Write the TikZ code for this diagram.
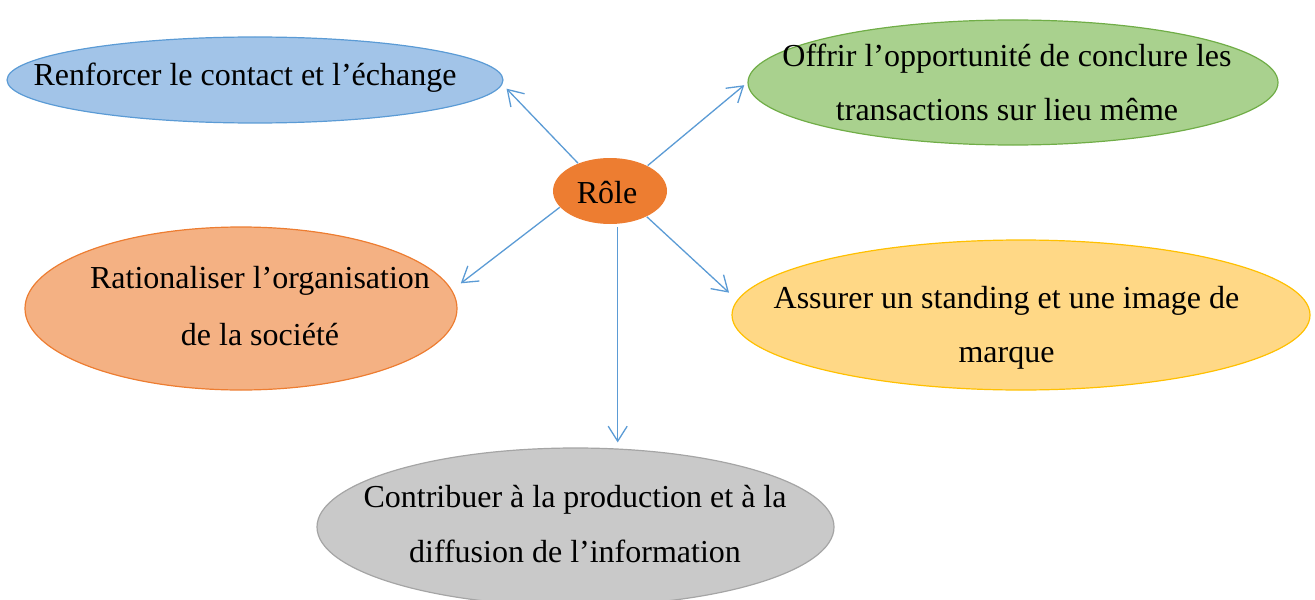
\documentclass[tikz,border=0pt]{standalone}
\usepackage{fontspec}
\setmainfont{Liberation Serif}
\usetikzlibrary{shapes.geometric,arrows.meta}
\definecolor{arrowblue}{HTML}{5B9BD5}
\definecolor{bluefill}{HTML}{A2C4E8}
\definecolor{blueline}{HTML}{5B9BD5}
\definecolor{greenfill}{HTML}{A9D18E}
\definecolor{greenline}{HTML}{70AD47}
\definecolor{salmonfill}{HTML}{F4B183}
\definecolor{salmonline}{HTML}{ED7D31}
\definecolor{yellowfill}{HTML}{FFD886}
\definecolor{yellowline}{HTML}{FFC000}
\definecolor{grayfill}{HTML}{C9C9C9}
\definecolor{grayline}{HTML}{A5A5A5}
\definecolor{rolefill}{HTML}{ED7D31}
\tikzset{
  bubble/.style={ellipse, inner sep=0pt, line width=0.6pt},
  txt/.style={anchor=base, inner sep=0pt, font=\fontsize{16pt}{27pt}\selectfont},
  arr/.style={draw=arrowblue, line width=0.65pt, -{Straight Barb[length=7.5pt,width=9.5pt]}}
}
\begin{document}
\begin{tikzpicture}[x=0.5pt,y=-0.5pt]
\useasboundingbox (0,0) rectangle (1315,599);
\clip (0,0) rectangle (1315,599);
% ellipses
\node[bubble, draw=blueline, fill=bluefill, minimum width=248pt, minimum height=43pt] (blue) at (255,80) {};
\node[bubble, draw=greenline, fill=greenfill, minimum width=265pt, minimum height=62.5pt] (green) at (1013,82.5) {};
\node[bubble, draw=salmonline, fill=salmonfill, minimum width=216pt, minimum height=81.5pt] (salmon) at (241,308.5) {};
\node[bubble, draw=yellowline, fill=yellowfill, minimum width=289pt, minimum height=75pt] (yellow) at (1021,315) {};
\node[bubble, draw=grayline, fill=grayfill, minimum width=258.5pt, minimum height=79pt] (gray) at (575.5,527) {};
\node[bubble, fill=rolefill, minimum width=57pt, minimum height=33pt] (role) at (610,191) {};
% texts
\node[txt] (roletxt) at (607,203) {Rôle};
\node[txt] (bluetxt) at (245,85) {Renforcer le contact et l’échange};
\node[txt] (greentxta) at (1007,67) {Offrir l’opportunité de conclure les};
\node[txt] (greentxtb) at (1007,120) {transactions sur lieu même};
\node[txt] (salmontxta) at (260,288) {Rationaliser l’organisation};
\node[txt] (salmontxtb) at (260,345) {de la société};
\node[txt] (yellowtxta) at (1006.5,308) {Assurer un standing et une image de};
\node[txt] (yellowtxtb) at (1006.5,362) {marque};
\node[txt] (graytxta) at (575,507) {Contribuer à la production et à la};
\node[txt] (graytxtb) at (575,562) {diffusion de l’information};
% connectors
\draw[arr, shorten >=3pt] (role.139.1) -- (blue.-1.35);
\draw[arr, shorten >=2.1pt] (role.34.4) -- (green.180.6);
\draw[arr, shorten >=5.5pt] (role.198.5) -- (salmon.5.14);
\draw[arr, shorten >=5.5pt] (role.-35.5) -- (yellow.177.5);
\draw[arr, shorten <=1.5pt, shorten >=2.5pt] (role.283) -- (role.283 |- gray.north);
\end{tikzpicture}
\end{document}
